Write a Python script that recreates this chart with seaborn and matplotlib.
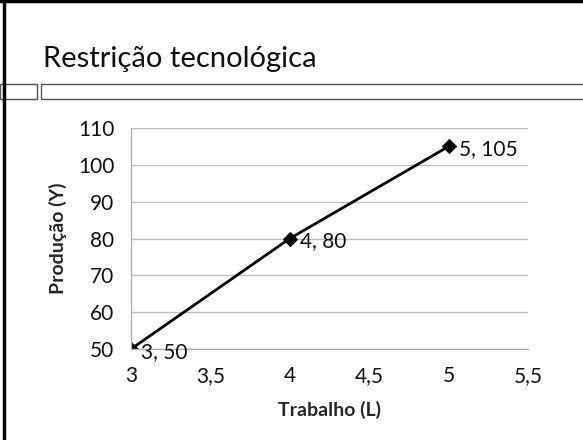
import matplotlib
matplotlib.use("Agg")
import matplotlib.pyplot as plt
import seaborn as sns
import pandas as pd
from matplotlib.lines import Line2D
from matplotlib.patches import Rectangle

# data
trabalho = [3, 4, 5]
producao = [50, 80, 105]
x_ticks = [3, 3.5, 4, 4.5, 5, 5.5]
x_ticklabels = ["3", "3,5", "4", "4,5", "5", "5,5"]
y_ticks = [50, 60, 70, 80, 90, 100, 110]
title = "Restrição tecnológica"

sns.set_style("white")
plt.rcParams['font.family'] = ['Lato', 'DejaVu Sans']

df = pd.DataFrame({'L': trabalho, 'Y': producao})

W, H = 583, 440
fig = plt.figure(figsize=(W / 100, H / 100), dpi=100)
ax = fig.add_axes([131 / W, 1 - 349 / H, (528 - 131) / W, (349 - 128) / H])

sns.lineplot(data=df, x='L', y='Y', ax=ax, color='black', linewidth=2,
             marker='D', markersize=7, markeredgecolor='black')

for x, y in zip(trabalho, producao):
    ax.annotate(f"{x}, {y}", (x, y), xytext=(7.5, -2), textcoords='offset points',
                ha='left', va='center', fontsize=15, color='#111111')

ax.set_xlim(3, 5.5)
ax.set_ylim(50, 110)
ax.set_xticks(x_ticks)
ax.set_xticklabels(x_ticklabels)
ax.set_yticks(y_ticks)
ax.tick_params(axis='both', labelsize=15, colors='#111111', length=5,
               width=1, direction='out', pad=7)
ax.tick_params(axis='both', color='#b0b0b0')
ax.grid(axis='y', color='#bdbdbd', linewidth=1)
ax.set_axisbelow(True)
for side in ['top', 'right']:
    ax.spines[side].set_visible(False)
for side in ['left', 'bottom']:
    ax.spines[side].set_color('#b0b0b0')
    ax.spines[side].set_linewidth(1)
ax.set_xlabel('Trabalho (L)', fontsize=14, fontweight='bold', labelpad=11)
ax.set_ylabel('Produção (Y)', fontsize=14, fontweight='bold', labelpad=8)

# slide decoration
fig.text(43 / W, 1 - 67 / H, title, fontsize=21, ha='left', va='baseline',
         color='#111111')
fig.add_artist(Line2D([4 / W, 4 / W], [0, 1], color='black', linewidth=2.5))
fig.add_artist(Line2D([0, 1], [1 - 1.5 / H, 1 - 1.5 / H], color='black', linewidth=2.5))
fig.add_artist(Rectangle((0, 1 - 99 / H), 37 / W, 15 / H, fill=False,
                         edgecolor='#555555', linewidth=1))
fig.add_artist(Rectangle((41 / W, 1 - 99 / H), 1, 15 / H, fill=False,
                         edgecolor='#555555', linewidth=1))

fig.savefig('out.png', dpi=100)
